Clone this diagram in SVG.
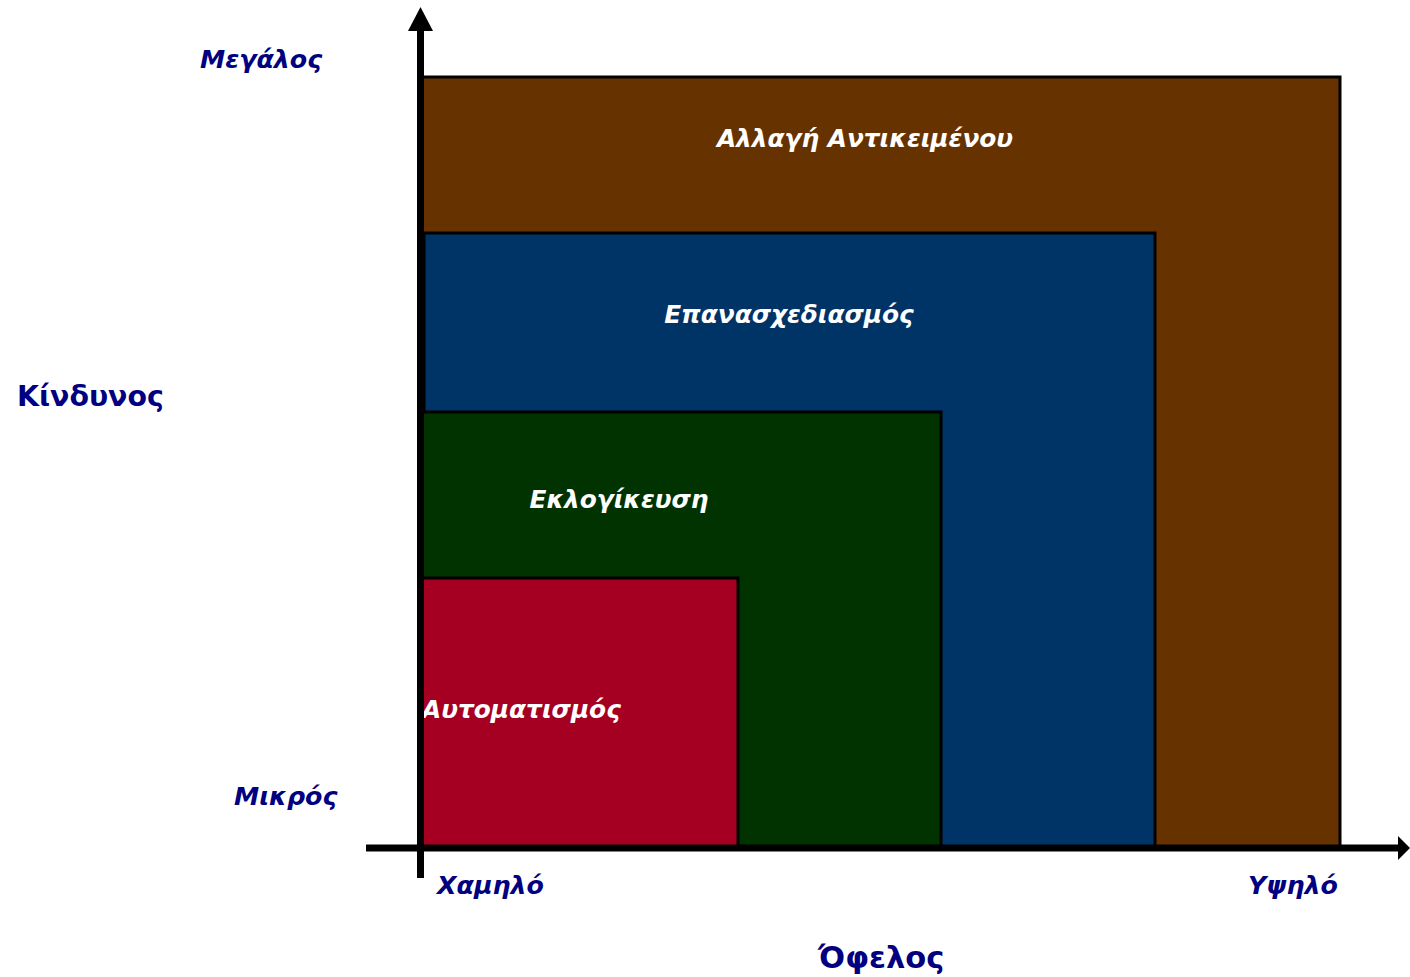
<svg xmlns="http://www.w3.org/2000/svg" width="1410" height="977" viewBox="0 0 1410 977">
<style>
.box{stroke:#000;stroke-width:3}
.in{font-family:"DejaVu Sans",Verdana,sans-serif;font-weight:bold;font-style:italic;font-size:24.8px;fill:#fff;text-anchor:middle}
.ax{font-family:"DejaVu Sans",Verdana,sans-serif;font-weight:bold;font-style:italic;font-size:25.3px;fill:#000080}
.tt{font-family:"DejaVu Sans",Verdana,sans-serif;font-weight:bold;font-size:28.4px;fill:#000080}
</style>
<rect width="1410" height="977" fill="#fff"/>
<g id="node-change"><rect class="box" x="422" y="77" width="918" height="770" fill="#663300"/><text class="in" x="865" y="147">Αλλαγή Αντικειμένου</text></g>
<g id="node-redesign"><rect class="box" x="424" y="233" width="731" height="614" fill="#003366"/><text class="in" x="789" y="323">Επανασχεδιασμός</text></g>
<g id="node-rational"><rect class="box" x="422" y="412" width="519" height="435" fill="#003300"/><text class="in" x="619" y="508">Εκλογίκευση</text></g>
<g id="node-auto"><rect class="box" x="420" y="578" width="318" height="269" fill="#a50021"/><text class="in" x="422" y="718" style="text-anchor:start">Αυτοματισμός</text></g>
<g id="connectors">
<line x1="420.5" y1="28" x2="420.5" y2="878" stroke="#000" stroke-width="7"/>
<polygon points="420.5,7 408,31 433,31" fill="#000"/>
<line x1="366" y1="848" x2="1402" y2="848" stroke="#000" stroke-width="7"/>
<polygon points="1410,848 1398,836 1398,860" fill="#000"/>
</g>
<g id="labels">
<text class="ax" x="200" y="68">Μεγάλος</text>
<text class="ax" x="234" y="805">Μικρός</text>
<text class="ax" x="437" y="894">Χαμηλό</text>
<text class="ax" x="1248" y="894">Υψηλό</text>
<text class="tt" x="17" y="406">Κίνδυνος</text>
<text class="tt" x="818" y="968" style="font-size:30.5px">Όφελος</text>
</g>
</svg>
